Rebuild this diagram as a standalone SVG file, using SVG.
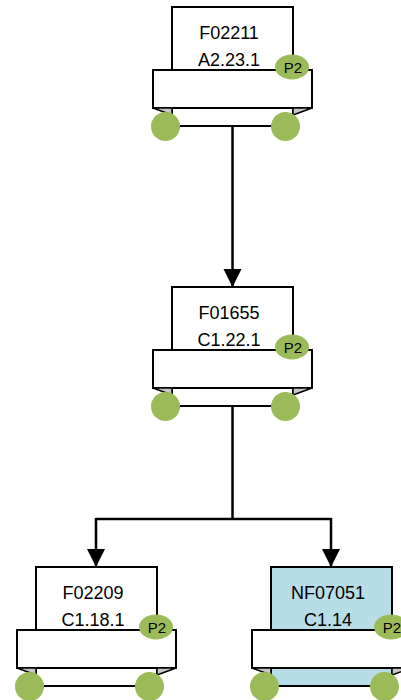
<svg xmlns="http://www.w3.org/2000/svg" width="401" height="700" viewBox="0 0 401 700">
<style>
.body{fill:#fff;stroke:#000;stroke-width:2}
.band{fill:#fff;stroke:#000;stroke-width:2}
.fold{fill:#c8c8c8;stroke:#000;stroke-width:1.5;stroke-linejoin:round}
.port{fill:#9bbb59}
.lbl{font-family:"Liberation Sans",Arial,sans-serif;font-size:18px;fill:#000;text-anchor:middle}
.p2{font-family:"Liberation Sans",Arial,sans-serif;font-size:15px;fill:#000;text-anchor:middle}
.conn{fill:none;stroke:#000;stroke-width:2.5}
</style>
<defs>
<marker id="arr" markerUnits="userSpaceOnUse" markerWidth="20" markerHeight="20" viewBox="0 0 20 20" refX="18" refY="10" orient="auto">
<polygon points="0,1 18,10 0,19" fill="#000"/>
</marker>
</defs>
<g id="connectors">
<line class="conn" x1="232.5" y1="126" x2="232.5" y2="287" marker-end="url(#arr)"/>
<polyline class="conn" points="232.5,406 232.5,519"/>
<polyline class="conn" points="95.5,519 331.5,519"/>
<line class="conn" x1="96" y1="518" x2="96" y2="567" marker-end="url(#arr)"/>
<line class="conn" x1="331" y1="518" x2="331" y2="567" marker-end="url(#arr)"/>
</g>
<g id="n1" transform="translate(172,7)">
<rect class="body" x="0" y="0" width="121" height="119"/>
<rect class="band" x="-19" y="63" width="159" height="38"/>
<polygon class="fold" points="-19,101 0,101 0,108"/>
<polygon class="fold" points="140,101 121,101 121,108"/>
<circle class="port" cx="-6.5" cy="119.5" r="14.5"/>
<circle class="port" cx="113.5" cy="119.5" r="14.5"/>
<ellipse class="port" cx="120" cy="60" rx="17" ry="12.5"/>
<text class="p2" x="121" y="65.5">P2</text>
<text class="lbl" x="57" y="31.5">F02211</text>
<text class="lbl" x="57" y="58.5">A2.23.1</text>
</g>
<g id="n2" transform="translate(172,287)">
<rect class="body" x="0" y="0" width="121" height="119"/>
<rect class="band" x="-19" y="63" width="159" height="38"/>
<polygon class="fold" points="-19,101 0,101 0,108"/>
<polygon class="fold" points="140,101 121,101 121,108"/>
<circle class="port" cx="-6.5" cy="119.5" r="14.5"/>
<circle class="port" cx="113.5" cy="119.5" r="14.5"/>
<ellipse class="port" cx="120" cy="60" rx="17" ry="12.5"/>
<text class="p2" x="121" y="65.5">P2</text>
<text class="lbl" x="57" y="31.5">F01655</text>
<text class="lbl" x="57" y="58.5">C1.22.1</text>
</g>
<g id="n3" transform="translate(36,567)">
<rect class="body" x="0" y="0" width="121" height="119"/>
<rect class="band" x="-19" y="63" width="159" height="38"/>
<polygon class="fold" points="-19,101 0,101 0,108"/>
<polygon class="fold" points="140,101 121,101 121,108"/>
<circle class="port" cx="-6.5" cy="119.5" r="14.5"/>
<circle class="port" cx="113.5" cy="119.5" r="14.5"/>
<ellipse class="port" cx="120" cy="60" rx="17" ry="12.5"/>
<text class="p2" x="121" y="65.5">P2</text>
<text class="lbl" x="57" y="31.5">F02209</text>
<text class="lbl" x="57" y="58.5">C1.18.1</text>
</g>
<g id="n4" transform="translate(271,567)">
<rect class="body" x="0" y="0" width="121" height="119" style="fill:#b7dde8"/>
<rect class="band" x="-19" y="63" width="159" height="38"/>
<polygon class="fold" points="-19,101 0,101 0,108"/>
<polygon class="fold" points="140,101 121,101 121,108"/>
<circle class="port" cx="-6.5" cy="119.5" r="14.5"/>
<circle class="port" cx="113.5" cy="119.5" r="14.5"/>
<ellipse class="port" cx="120" cy="60" rx="17" ry="12.5"/>
<text class="p2" x="121" y="65.5">P2</text>
<text class="lbl" x="57" y="31.5">NF07051</text>
<text class="lbl" x="57" y="58.5">C1.14</text>
</g>
</svg>
